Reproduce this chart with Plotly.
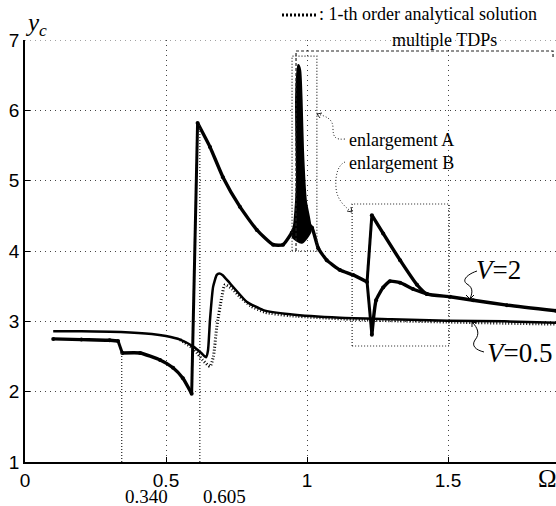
import plotly.graph_objects as go

# ---------------- data ----------------
# V=2 : segments of the response curve
v2_flat_x = [0.10, 0.20, 0.30, 0.33]
v2_flat_y = [2.75, 2.74, 2.73, 2.72]
v2_fall_x = [0.345, 0.408, 0.479, 0.525, 0.56, 0.591]
v2_fall_y = [2.55, 2.55, 2.45, 2.34, 2.19, 1.97]
v2_peak_x = [0.612, 0.656, 0.702, 0.762, 0.822, 0.88, 0.915, 0.946, 0.965]
v2_peak_y = [5.82, 5.48, 5.05, 4.63, 4.30, 4.09, 4.09, 4.26, 4.40]
v2_tail_x = [1.0, 1.018, 1.04, 1.07, 1.117, 1.163, 1.213]
v2_tail_y = [4.40, 4.33, 4.04, 3.87, 3.73, 3.66, 3.56]
v2_up_x = [1.23, 1.27, 1.33, 1.39, 1.425, 1.507, 1.589, 1.709, 1.883]
v2_up_y = [4.51, 4.25, 3.87, 3.52, 3.39, 3.35, 3.30, 3.23, 3.15]
v2_low_x = [1.23, 1.245, 1.27, 1.294, 1.33, 1.376, 1.425]
v2_low_y = [2.81, 3.30, 3.48, 3.57, 3.55, 3.46, 3.39]
spike_x = [0.969, 0.962, 0.965, 0.956, 0.950, 0.981, 1.012, 0.995, 0.985, 0.980, 0.975, 0.969]
spike_y = [6.64, 6.15, 4.97, 4.40, 4.20, 4.12, 4.28, 4.72, 5.43, 6.15, 6.57, 6.64]

v05_x = [0.10, 0.20, 0.34, 0.45, 0.50, 0.55, 0.597, 0.625, 0.642, 0.649, 0.656, 0.667,
         0.68, 0.689, 0.70, 0.727, 0.786, 0.845, 0.94, 1.117, 1.30, 1.50, 1.70, 1.883]
v05_y = [2.86, 2.86, 2.85, 2.82, 2.79, 2.74, 2.64, 2.55, 2.49, 2.59, 3.02, 3.49,
         3.66, 3.68, 3.66, 3.54, 3.28, 3.16, 3.10, 3.05, 3.03, 3.01, 3.00, 2.98]
ana_x = [0.55, 0.60, 0.63, 0.656, 0.668, 0.68, 0.698, 0.709, 0.735, 0.762, 0.80, 0.85,
         0.94, 1.20, 1.50, 1.883]
ana_y = [2.74, 2.60, 2.45, 2.36, 2.50, 2.92, 3.35, 3.52, 3.46, 3.35, 3.22, 3.13,
         3.08, 3.02, 2.99, 2.96]

x_ticks = [0, 0.5, 1, 1.5]
x_tick_text = ["0", "0.5", "1", "1.5"]
y_ticks = [1, 2, 3, 4, 5, 6, 7]
marks_x = [0.343, 0.62]
marks_y = [2.55, 5.82]
marks_text = ["0.340", "0.605"]
boxA = [0.947, 1.035, 4.0, 6.77]
boxB = [1.160, 1.504, 2.649, 4.668]

# ---------------- geometry helpers ----------------
W, H = 556, 506
L, R, T, B = 25, 0, 40, 44
PW, PH = W - L - R, H - T - B
XMAX = (W - L) / 282


def P(px, py):
    return (px - L) / PW, (H - B - py) / PH


def path(points):
    s = ""
    for i, (px, py) in enumerate(points):
        x, y = P(px, py)
        s += ("M" if i == 0 else " L") + f"{x:.4f},{y:.4f}"
    return s


def cpath(start, curves):
    x, y = P(*start)
    s = f"M{x:.4f},{y:.4f}"
    for c in curves:
        pts = [P(*p) for p in c]
        s += " C" + " ".join(f"{a:.4f},{b:.4f}" for a, b in pts)
    return s


serif = "Liberation Serif, DejaVu Serif, Times New Roman, serif"
sans = "Liberation Sans, Arial, sans-serif"

fig = go.Figure()

# analytical (dotted)
fig.add_trace(go.Scatter(x=ana_x, y=ana_y, mode="lines",
                         line=dict(color="black", width=3, dash="1px,2px", shape="spline", smoothing=0.6),
                         showlegend=False, hoverinfo="skip"))
# V=0.5
fig.add_trace(go.Scatter(x=v05_x, y=v05_y, mode="lines",
                         line=dict(color="black", width=2.5, shape="spline", smoothing=0.5),
                         showlegend=False, hoverinfo="skip"))
# V=2 spike (dense multiple TDPs)
fig.add_trace(go.Scatter(x=spike_x, y=spike_y, mode="lines", fill="toself", fillcolor="black",
                         line=dict(color="black", width=2.5, shape="spline", smoothing=0.6),
                         showlegend=False, hoverinfo="skip"))
# V=2 connecting jumps (straight)
jx = [v2_flat_x[-1], v2_fall_x[0], None, v2_fall_x[-1], v2_peak_x[0], None,
      v2_tail_x[-1], v2_up_x[0], None, v2_tail_x[-1], v2_low_x[0], None,
      v2_peak_x[-1], v2_tail_x[0]]
jy = [v2_flat_y[-1], v2_fall_y[0], None, v2_fall_y[-1], v2_peak_y[0], None,
      v2_tail_y[-1], v2_up_y[0], None, v2_tail_y[-1], v2_low_y[0], None,
      v2_peak_y[-1], v2_tail_y[0]]
fig.add_trace(go.Scatter(x=jx, y=jy, mode="lines", line=dict(color="black", width=3),
                         showlegend=False, hoverinfo="skip"))
# V=2 smooth parts
for xs, ys in [(v2_flat_x, v2_flat_y), (v2_fall_x, v2_fall_y), (v2_peak_x, v2_peak_y),
               (v2_tail_x, v2_tail_y), (v2_up_x, v2_up_y), (v2_low_x, v2_low_y)]:
    fig.add_trace(go.Scatter(x=xs, y=ys, mode="lines+markers",
                             line=dict(color="black", width=3.4, shape="spline", smoothing=0.5),
                             marker=dict(color="black", size=4),
                             showlegend=False, hoverinfo="skip"))

shapes = []
dot = dict(color="#222", width=1.2, dash="1px,2px")
# top grid line at y = 7
shapes.append(dict(type="line", xref="x", yref="y", x0=0, x1=XMAX, y0=7, y1=7,
                   line=dict(color="#444", width=1, dash="1px,4px")))
# vertical mark lines
for mx, my in zip(marks_x, marks_y):
    shapes.append(dict(type="line", xref="x", yref="y", x0=mx, x1=mx, y0=1, y1=my, line=dot))
# enlargement boxes
for bx in (boxA, boxB):
    shapes.append(dict(type="rect", xref="x", yref="y", x0=bx[0], x1=bx[1], y0=bx[2], y1=bx[3],
                       line=dot))
# multiple TDPs bracket
dash = dict(color="#222", width=1.2, dash="3px,2px")
shapes.append(dict(type="path", xref="paper", yref="paper",
                   path=path([(296, 251), (296, 51), (553, 51), (553, 57)]), line=dash))
# legend dotted sample
lx0, ly0 = P(282, 15)
lx1, ly1 = P(318, 15)
shapes.append(dict(type="line", xref="paper", yref="paper", x0=lx0, x1=lx1, y0=ly0, y1=ly1,
                   line=dict(color="black", width=3, dash="2px,2px")))
# curved dotted arrows
arr = dict(color="#222", width=1, dash="1px,2px")
shapes.append(dict(type="path", xref="paper", yref="paper",
                   path=cpath((345, 139), [[(335, 140), (333, 137), (333, 128)],
                                           [(333, 119), (326, 116), (317, 114)]]), line=arr))
shapes.append(dict(type="path", xref="paper", yref="paper",
                   path=path([(322, 113), (317, 114), (320, 118)]), line=dict(color="#222", width=1)))
shapes.append(dict(type="path", xref="paper", yref="paper",
                   path=cpath((345, 162), [[(338, 165), (335, 175), (336, 188)],
                                           [(337, 200), (345, 207), (352, 212)]]), line=arr))
shapes.append(dict(type="path", xref="paper", yref="paper",
                   path=path([(347, 211), (352, 212), (351, 207)]), line=dict(color="#222", width=1)))
# squiggles for V labels
sq = dict(color="black", width=1)
shapes.append(dict(type="path", xref="paper", yref="paper",
                   path=cpath((477, 271), [[(468, 274), (461, 280), (467, 284)],
                                           [(474, 288), (472, 294), (470, 299)]]), line=sq))
shapes.append(dict(type="path", xref="paper", yref="paper",
                   path=path([(466, 295), (470, 299), (474, 295)]), line=sq))
shapes.append(dict(type="path", xref="paper", yref="paper",
                   path=cpath((484, 352), [[(476, 350), (471, 346), (475, 340)],
                                           [(480, 334), (478, 328), (472, 322)]]), line=sq))
shapes.append(dict(type="path", xref="paper", yref="paper",
                   path=path([(472, 327), (472, 322), (477, 323)]), line=sq))

annotations = []


def ann(text, px, py, size, font=serif, xanchor="center"):
    x, y = P(px, py)
    annotations.append(dict(text=text, x=x, y=y, xref="paper", yref="paper", showarrow=False,
                            xanchor=xanchor, yanchor="middle",
                            font=dict(family=font, size=size, color="black")))


ann("<i>y</i><sub><i>c</i></sub>", 23, 24, 25, xanchor="left")
ann("Ω", 536, 478, 25, xanchor="left")
for mt, mx in zip(marks_text, marks_x):
    px = L + mx * 282
    ann(mt, px + 1, 497, 19, xanchor="left")
ann(": 1-th order analytical solution", 317, 14, 18, xanchor="left")
ann("multiple TDPs", 444, 40, 18)
ann("enlargement A", 347, 140, 18, xanchor="left")
ann("enlargement B", 347, 163, 18, xanchor="left")
ann("<i>V</i>=2", 474, 270, 27, xanchor="left")
ann("<i>V</i>=0.5", 485, 353, 27, xanchor="left")

axis_common = dict(showline=True, linecolor="black", linewidth=1.5, ticks="inside", ticklen=5,
                   tickcolor="black", showgrid=True, gridcolor="#444", griddash="1px,4px",
                   gridwidth=1, zeroline=False, tickfont=dict(family=sans, size=19, color="black"))

fig.update_layout(
    width=W, height=H, margin=dict(l=L, r=R, t=T, b=B),
    paper_bgcolor="white", plot_bgcolor="white",
    xaxis=dict(range=[0, XMAX], tickvals=x_ticks, ticktext=x_tick_text, **axis_common),
    yaxis=dict(range=[1, 7], tickvals=y_ticks, **axis_common),
    shapes=shapes, annotations=annotations, showlegend=False,
)

fig.write_html("out.html")
